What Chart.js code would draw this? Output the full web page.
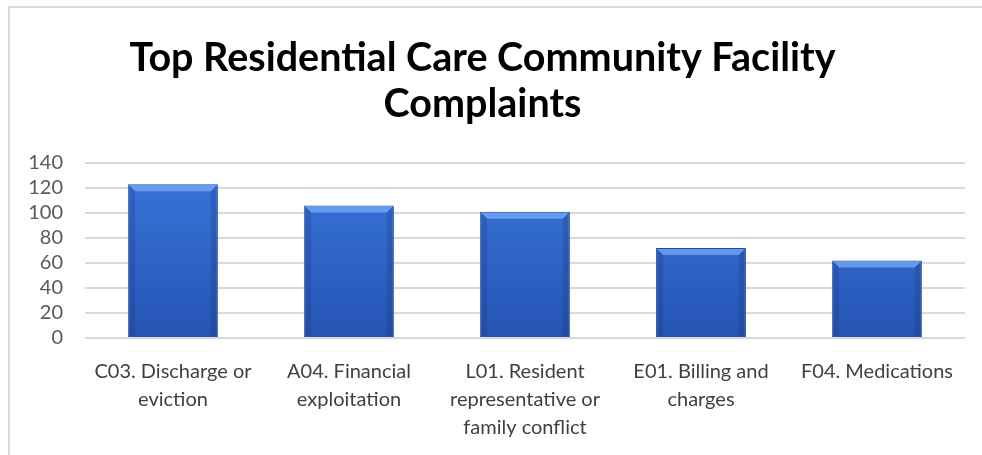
<!DOCTYPE html>
<html>
<head>
<meta charset="utf-8">
<script src="https://cdn.jsdelivr.net/npm/chart.js"></script>
<style>
  html, body { margin: 0; padding: 0; background: #fff; overflow: hidden; }
  #wrap { position: relative; width: 982px; height: 455px; overflow: hidden; }
  #frame { position: absolute; left: 8px; top: 6px; width: 1000px; height: 500px;
           border-left: 2px solid #d9d9d9; border-top: 2px solid #d9d9d9; }
  canvas { position: absolute; left: 0; top: 0; }
</style>
</head>
<body>
<div id="wrap">
  <div id="frame"></div>
  <canvas id="graph-bar" width="982" height="455"></canvas>
</div>
<script>
const categories = [
    ["C03. Discharge or", "eviction"],
    ["A04. Financial", "exploitation"],
    ["L01. Resident", "representative or", "family conflict"],
    ["E01. Billing and", "charges"],
    ["F04. Medications"]
];
const complaints = [123, 106, 101, 72, 62];
const yTicks = [0, 20, 40, 60, 80, 100, 120, 140];

// bevelled blue look, roughly
function barFill(context) {
    const chart = context.chart;
    const area = chart.chartArea;
    if (!area) return "#2f66cc";
    const g = chart.ctx.createLinearGradient(0, area.top, 0, area.bottom);
    g.addColorStop(0, "#3a76dc");
    g.addColorStop(1, "#2554b4");
    return g;
}

// light top bevel + darker sides on each bar
const bevel = {
    id: "bevel",
    afterDatasetsDraw(chart) {
        const ctx = chart.ctx;
        chart.getDatasetMeta(0).data.forEach(bar => {
            const p = bar.getProps(["x", "y", "base", "width"], true);
            const l = p.x - p.width / 2, r = p.x + p.width / 2, t = p.y, b = p.base;
            const d = 7;
            ctx.save();
            ctx.fillStyle = "rgba(120,170,245,0.75)";
            ctx.beginPath();
            ctx.moveTo(l + 1, t + 1); ctx.lineTo(r - 1, t + 1);
            ctx.lineTo(r - d, t + d); ctx.lineTo(l + d, t + d);
            ctx.closePath(); ctx.fill();
            ctx.fillStyle = "rgba(20,50,120,0.25)";
            ctx.beginPath();
            ctx.moveTo(l + 1, t + 1); ctx.lineTo(l + d, t + d);
            ctx.lineTo(l + d, b - 2); ctx.lineTo(l + 1, b);
            ctx.closePath(); ctx.fill();
            ctx.beginPath();
            ctx.moveTo(r - 1, t + 1); ctx.lineTo(r - d, t + d);
            ctx.lineTo(r - d, b - 2); ctx.lineTo(r - 1, b);
            ctx.closePath(); ctx.fill();
            ctx.restore();
        });
    }
};

new Chart(document.getElementById("graph-bar").getContext('2d'), {
    type: "bar",
    data: {
        labels: categories,
        datasets: [{
            data: complaints,
            backgroundColor: barFill,
            borderColor: "#1f4c9e",
            borderWidth: 1,
            barPercentage: 0.51,
            categoryPercentage: 1
        }]
    },
    plugins: [bevel],
    options: {
        responsive: false,
        animation: false,
        layout: { padding: { left: 0, right: 17, top: 0, bottom: 13 } },
        plugins: {
            legend: { display: false },
            tooltip: { enabled: false },
            title: {
                display: true,
                text: ["Top Residential Care Community Facility", "Complaints"],
                color: "#000",
                font: { family: "Lato", size: 39.5, weight: "bold", lineHeight: 1.165 },
                padding: { top: 35, bottom: 36 }
            }
        },
        scales: {
            x: {
                afterFit: (axis) => { axis.height = 104; },
                grid: { display: false, drawTicks: false },
                border: { display: false },
                ticks: {
                    color: "#404040",
                    font: { family: "Lato", size: 20, lineHeight: 1.4 },
                    padding: 20,
                    maxRotation: 0,
                    autoSkip: false
                }
            },
            y: {
                min: 0,
                max: 140,
                afterBuildTicks: (axis) => { axis.ticks = yTicks.map(v => ({ value: v })); },
                afterFit: (axis) => { axis.width = 85; },
                grid: { color: "#d9d9d9", lineWidth: 2, drawTicks: false },
                border: { display: false },
                ticks: {
                    color: "#595959",
                    font: { family: "Lato", size: 20 },
                    padding: 22,
                    autoSkip: false
                }
            }
        }
    }
});
</script>
</body>
</html>
